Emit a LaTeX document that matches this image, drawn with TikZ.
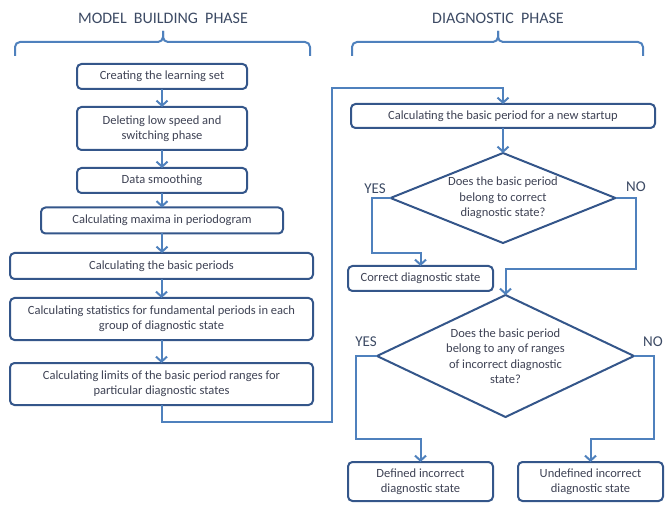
\documentclass[tikz,border=0pt]{standalone}
\usepackage{fontspec}
\setmainfont{Carlito}
\usetikzlibrary{arrows.meta,shapes.geometric}
\definecolor{boxc}{RGB}{52,86,138}
\definecolor{linec}{RGB}{79,129,189}
\definecolor{txtc}{RGB}{62,66,84}
\definecolor{titc}{RGB}{60,74,100}
\tikzset{
  box/.style={draw=boxc, line width=2pt, rounded corners=4.5pt, align=center,
    font=\fontsize{12.5}{15}\selectfont, text=txtc, inner sep=0pt, outer sep=0pt},
  dia/.style={draw=boxc, line width=2pt, diamond, align=center,
    font=\fontsize{12.5}{15.5}\selectfont, text=txtc, inner sep=0pt, outer sep=0pt},
  conn/.style={draw=linec, line width=2pt},
  arr/.style={conn, -{Straight Barb[length=5pt,width=11pt,line width=2pt]}},
  lbl/.style={font=\fontsize{15}{15}\selectfont, text=titc, inner sep=0pt},
  ttl/.style={font=\fontsize{16}{16}\selectfont, text=titc, inner sep=0pt},
  brace/.style={draw=linec, line width=2pt, rounded corners=5pt},
}
\begin{document}
\begin{tikzpicture}[x=1pt,y=-1pt]
\useasboundingbox (0,0) rectangle (667,505);
% titles and braces
\node[ttl] (t1) at (163,18) {MODEL\ \ BUILDING\ \ PHASE};
\node[ttl] (t2) at (498,18) {DIAGNOSTIC\ \ PHASE};
\draw[brace] (15,56) |- (163,42) -- (163,31);
\draw[brace] (310,56) |- (163,42) -- (163,31);
\draw[brace] (352,56) |- (498,42) -- (498,31);
\draw[brace] (643,56) |- (498,42) -- (498,31);
% left column
\node[box, minimum width=170pt, minimum height=25pt] (b1) at (162,76.5) {Creating the learning set};
\node[box, minimum width=170pt, minimum height=43pt] (b2) at (162,128.5) {Deleting low speed and\\switching phase};
\node[box, minimum width=170pt, minimum height=25pt] (b3) at (162,180.5) {Data smoothing};
\node[box, minimum width=242pt, minimum height=26pt] (b4) at (162,220.5) {Calculating maxima in periodogram};
\node[box, minimum width=303pt, minimum height=26pt] (b5) at (161.5,266) {Calculating the basic periods};
\node[box, minimum width=303pt, minimum height=42pt] (b6) at (161.5,319) {Calculating statistics for fundamental periods\ in each\\group of diagnostic state};
\node[box, minimum width=303pt, minimum height=42pt] (b7) at (161.5,384) {Calculating limits of the basic period ranges for\\particular diagnostic states};
\draw[arr] (b1) -- (b2);
\draw[arr] (b2) -- (b3);
\draw[arr] (b3) -- (b4);
\draw[arr] (b4.south) -- (b4.south |- b5.north);
\draw[arr] (b5.south) -- (b6.north);
\draw[arr] (b6.south) -- (b7.north);
% right column
\node[box, minimum width=304pt, minimum height=24pt] (r1) at (503,116) {Calculating the basic period\ for a new startup};
\node[dia, minimum width=225pt, minimum height=90pt, shape aspect=2.5] (d1) at (503,198) {Does the basic period\\belong to correct\\diagnostic state?};
\node[box, minimum width=145pt, minimum height=25pt] (c1) at (420.5,278.5) {Correct\ diagnostic state};
\node[dia, minimum width=257pt, minimum height=122pt, shape aspect=2.1] (d2) at (505.5,356) {Does the basic period\\belong to any of ranges\\of incorrect diagnostic\\state?};
\node[box, minimum width=145pt, minimum height=39pt] (c2) at (420.5,481.5) {Defined incorrect\\diagnostic state};
\node[box, minimum width=145pt, minimum height=39pt] (c3) at (590.5,481.5) {Undefined incorrect\\diagnostic state};
% loop connector
\coordinate (loopA) at (332,422);
\coordinate (loopB) at (332,88);
\draw[arr] (b7.south) |- (loopA) -- (loopB) -| (r1.north);
\draw[arr] (r1.south) -- (d1.north);
\coordinate (y1) at (372,253);
\coordinate (n1) at (636,269);
\draw[arr] (d1.west) -| (y1) -| (c1.north);
\draw[arr] (d1.east) -| (n1) -| (d2.north);
\coordinate (y2) at (356,439);
\coordinate (n2) at (654,439);
\draw[arr] (d2.west) -| (y2) -| (c2.north);
\draw[arr] (d2.east) -| (n2) -| (c3.north);
% labels
\node[lbl] (yes1) at (375,189) {YES};
\node[lbl] (no1) at (636,187) {NO};
\node[lbl] (yes2) at (366,342) {YES};
\node[lbl] (no2) at (653,342) {NO};
\end{tikzpicture}
\end{document}
